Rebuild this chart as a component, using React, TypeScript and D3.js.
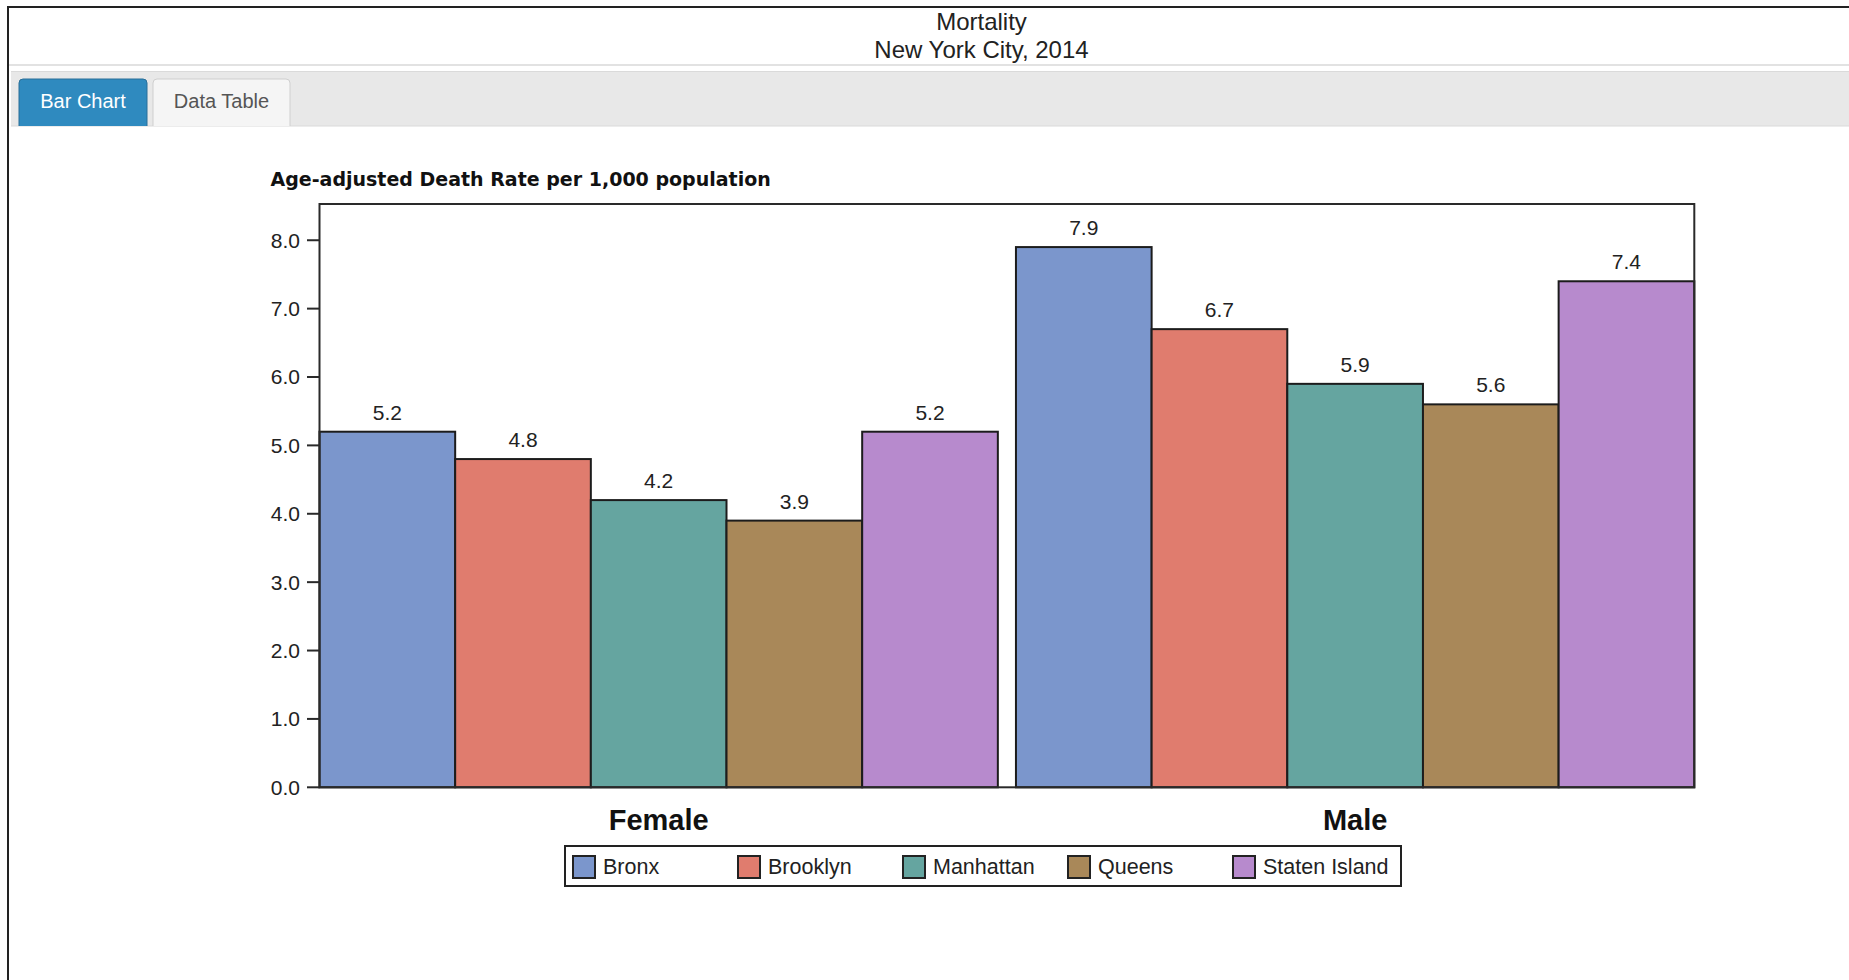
import React from "react";
import * as d3 from "d3";

// Mortality by borough and sex, New York City, 2014
const categories = ["Female", "Male"];
const boroughs = ["Bronx", "Brooklyn", "Manhattan", "Queens", "Staten Island"];
const femaleRates = [5.2, 4.8, 4.2, 3.9, 5.2];
const maleRates = [7.9, 6.7, 5.9, 5.6, 7.4];
const yTicks = [0, 1, 2, 3, 4, 5, 6, 7, 8];
const boroughColors = ["#7b96cc", "#e07c6e", "#65a5a0", "#a98859", "#b78acd"];
const tabs = ["Bar Chart", "Data Table"];

const W = 1849;
const H = 980;
const SANS = "'Liberation Sans', Arial, Helvetica, sans-serif";

export default function App() {
  const plot = { left: 319.5, right: 1694.3, top: 204, bottom: 787.3 };
  const seriesByCategory = [femaleRates, maleRates];

  const x0 = d3
    .scaleBand<string>()
    .domain(categories)
    .range([plot.left, plot.right])
    .paddingInner(0.026)
    .paddingOuter(0);
  const x1 = d3.scaleBand<string>().domain(boroughs).range([0, x0.bandwidth()]);
  const y = d3.scaleLinear().domain([0, 8.53]).range([plot.bottom, plot.top]);
  const fmt = d3.format(".1f");
  const color = d3.scaleOrdinal<string, string>().domain(boroughs).range(boroughColors);

  const tabX = [19, 153];
  const tabW = [128, 137];

  return (
    <svg
      width={W}
      height={H}
      viewBox={`0 0 ${W} ${H}`}
      style={{ position: "absolute", left: 0, top: 0, background: "#fff" }}
      fontFamily={SANS}
    >
      {/* page frame */}
      <line x1={8} y1={7} x2={W} y2={7} stroke="#222" strokeWidth={2} />
      <line x1={8} y1={6} x2={8} y2={H} stroke="#222" strokeWidth={2} />

      {/* header */}
      <text x={981.5} y={30} textAnchor="middle" fontSize={24} fill="#222">
        Mortality
      </text>
      <text x={981.5} y={57.5} textAnchor="middle" fontSize={24} fill="#222">
        New York City, 2014
      </text>
      <line x1={9} y1={65} x2={W} y2={65} stroke="#e2e2e2" strokeWidth={2} />

      {/* tab strip */}
      <rect x={11} y={71} width={W - 11} height={55} fill="#e8e8e8" />
      <line x1={11} y1={71.5} x2={W} y2={71.5} stroke="#dadada" strokeWidth={1} />
      <line x1={11} y1={126} x2={W} y2={126} stroke="#dadada" strokeWidth={1} />
      {tabs.map((t, i) => {
        const active = i === 0;
        const x = tabX[i];
        const w = tabW[i];
        return (
          <g key={t}>
            <path
              d={`M${x},126 V${83} Q${x},79 ${x + 4},79 H${x + w - 4} Q${x + w},79 ${x + w},83 V126`}
              fill={active ? "#2f8abf" : "#f5f5f5"}
              stroke={active ? "#2a6f98" : "#cfcfcf"}
              strokeWidth={1}
            />
            <text
              x={x + w / 2}
              y={108}
              textAnchor="middle"
              fontSize={20}
              fill={active ? "#ffffff" : "#555"}
            >
              {t}
            </text>
          </g>
        );
      })}

      {/* axis title */}
      <text
        x={270.5}
        y={186}
        fontFamily="'DejaVu Sans', Verdana, sans-serif"
        fontWeight="bold"
        fontSize={19}
        fill="#111"
      >
        Age-adjusted Death Rate per 1,000 population
      </text>

      {/* bars */}
      {categories.map((c, ci) => (
        <g key={c} transform={`translate(${x0(c)},0)`}>
          {boroughs.map((b, bi) => {
            const v = seriesByCategory[ci][bi];
            const bx = x1(b) as number;
            return (
              <g key={b}>
                <rect
                  x={bx}
                  y={y(v)}
                  width={x1.bandwidth()}
                  height={plot.bottom - y(v)}
                  fill={color(b)}
                  stroke="#1c1c1c"
                  strokeWidth={2}
                />
                <text
                  x={bx + x1.bandwidth() / 2}
                  y={y(v) - 12}
                  textAnchor="middle"
                  fontSize={21}
                  fill="#222"
                >
                  {fmt(v)}
                </text>
              </g>
            );
          })}
        </g>
      ))}

      {/* plot frame */}
      <rect
        x={plot.left}
        y={plot.top}
        width={plot.right - plot.left}
        height={plot.bottom - plot.top}
        fill="none"
        stroke="#2a2a2a"
        strokeWidth={2}
      />

      {/* y axis ticks */}
      {yTicks.map((t) => (
        <g key={t}>
          <line x1={plot.left - 12.5} x2={plot.left} y1={y(t)} y2={y(t)} stroke="#2a2a2a" strokeWidth={2} />
          <text x={300} y={y(t)} dy="0.35em" textAnchor="end" fontSize={21} fill="#222">
            {fmt(t)}
          </text>
        </g>
      ))}

      {/* category labels */}
      {categories.map((c) => (
        <text
          key={c}
          x={(x0(c) as number) + x0.bandwidth() / 2}
          y={830}
          textAnchor="middle"
          fontSize={29}
          fontWeight="bold"
          fill="#111"
        >
          {c}
        </text>
      ))}

      {/* legend */}
      <rect x={565} y={846} width={836} height={40} fill="#fff" stroke="#222" strokeWidth={2} />
      {boroughs.map((b, i) => {
        const lx = 573 + i * 165;
        return (
          <g key={b}>
            <rect x={lx} y={856} width={22} height={22} fill={color(b)} stroke="#222" strokeWidth={2} />
            <text x={lx + 30} y={873.5} fontSize={21.5} fill="#222">
              {b}
            </text>
          </g>
        );
      })}
    </svg>
  );
}
